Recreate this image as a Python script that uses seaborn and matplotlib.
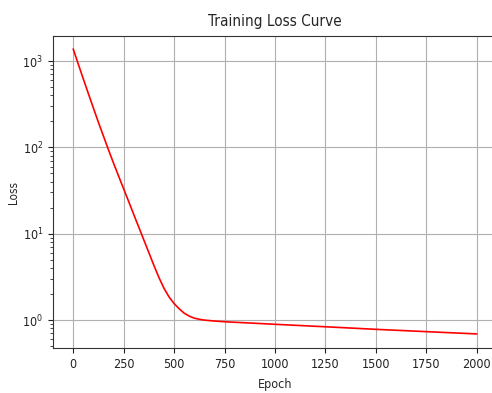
import matplotlib
matplotlib.use("Agg")
import matplotlib.pyplot as plt
import seaborn as sns
import pandas as pd

epochs = [0, 25, 50, 75, 100, 125, 150, 175, 200, 225, 250, 275, 300, 325, 350,
          375, 400, 425, 450, 475, 500, 525, 550, 575, 600, 625, 650, 700, 750,
          800, 900, 1000, 1250, 1500, 1750, 2000]
losses = [1380, 925, 622, 421, 286, 195, 135, 93.5, 65.6, 46.5, 33.1, 23.6, 16.7, 11.9, 8.47,
          6.03, 4.29, 3.10, 2.33, 1.85, 1.55, 1.35, 1.20, 1.11, 1.05, 1.02, 0.998, 0.973, 0.955,
          0.942, 0.917, 0.892, 0.835, 0.78, 0.733, 0.69]
x_ticks = [0, 250, 500, 750, 1000, 1250, 1500, 1750, 2000]

df = pd.DataFrame({"Epoch": epochs, "Loss": losses})

sns.set_style("ticks")
plt.rcParams['font.family'] = ['DejaVu Sans']
plt.rcParams['font.stretch'] = 'condensed'
plt.rcParams['mathtext.fontset'] = 'custom'
plt.rcParams['mathtext.rm'] = 'DejaVu Sans:stretch=condensed'
plt.rcParams['mathtext.it'] = 'DejaVu Sans:italic:stretch=condensed'
plt.rcParams['mathtext.bf'] = 'DejaVu Sans:bold:stretch=condensed'

fig = plt.figure(figsize=(4.92, 3.93), dpi=100)
W, H = 492, 393
ax = fig.add_axes([53 / W, (H - 348) / H, (497 - 53) / W, (348 - 36) / H])

sns.lineplot(data=df, x="Epoch", y="Loss", color="red", linewidth=1.2, ax=ax)
ax.set_yscale("log")
ax.set_xlim(-100, 2100)
ax.set_ylim(0.474, 1950)
ax.set_xticks(x_ticks)
ax.grid(True, which="major", color="#b0b0b0", linewidth=0.8)
ax.tick_params(labelsize=9, length=3.5, width=0.8, pad=3.5, colors="#222222")
ax.tick_params(which="minor", length=2, width=0.6)
for s in ax.spines.values():
    s.set_linewidth(0.8)
    s.set_color("#333333")
    s.set_visible(True)

ax.set_xlabel("Epoch", fontsize=9, labelpad=5)
ax.set_ylabel("Loss", fontsize=8.5, labelpad=2)
ax.set_title("Training Loss Curve", fontsize=11, pad=7)

fig.savefig("out.png", dpi=100)
